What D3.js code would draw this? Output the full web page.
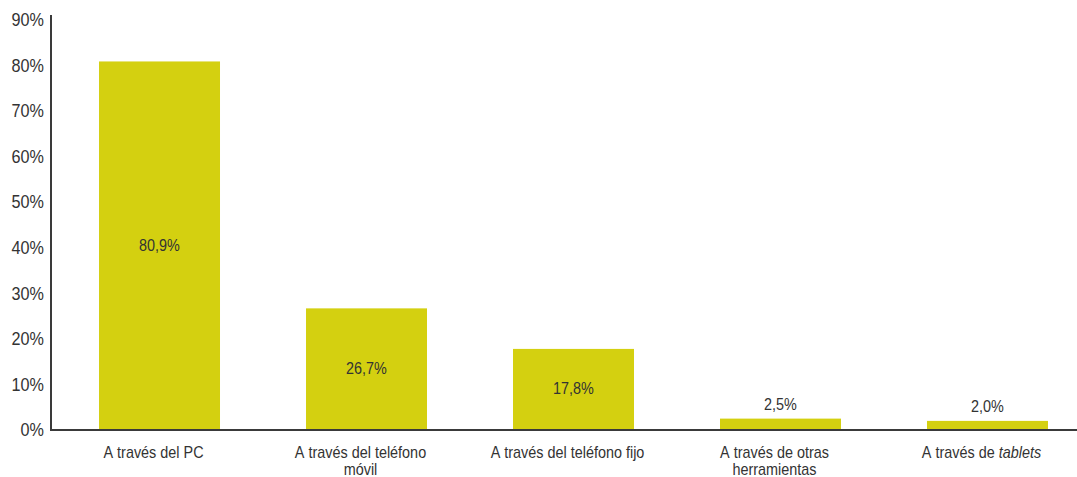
<!DOCTYPE html>
<html>
<head>
<meta charset="utf-8">
<script src="https://cdn.jsdelivr.net/npm/d3@7"></script>
<style>
  html, body { margin: 0; padding: 0; background: #fff; }
  svg { display: block; }
  text { font-family: "Liberation Sans", Arial, sans-serif; fill: #333; }
</style>
</head>
<body>
<svg id="chart" width="1077" height="477"></svg>
<script>
// Canal de acceso (porcentaje)
const categories = [
  "A través del PC",
  "A través del teléfono\nmóvil",
  "A través del teléfono fijo",
  "A través de otras\nherramientas",
  "A través de tablets"
];
const values = [80.9, 26.7, 17.8, 2.5, 2.0];
const valueLabels = ["80,9%", "26,7%", "17,8%", "2,5%", "2,0%"];
const tickValues = [0, 10, 20, 30, 40, 50, 60, 70, 80, 90];
const tickLabels = ["0%", "10%", "20%", "30%", "40%", "50%", "60%", "70%", "80%", "90%"];
const italicWords = ["tablets"];

const svg = d3.select("#chart");
const W = 1077;
const axisX = 51, baseY = 430, topY = 20;
const condense = 0.9;   // narrow letterforms
const catShift = -6;    // category labels sit slightly left of the bar centres

const x = d3.scaleBand()
  .domain(categories)
  .range([axisX, 1096])
  .paddingInner(0.4155)
  .paddingOuter(0.232);

const y = d3.scaleLinear().domain([0, 90]).range([baseY, topY]);

// Y axis: labels only, with a plain vertical line
const yAxis = svg.append("g")
  .attr("transform", `translate(${axisX},0)`)
  .call(d3.axisLeft(y)
    .tickValues(tickValues)
    .tickFormat((d, i) => tickLabels[i])
    .tickSize(0)
    .tickPadding(8));
yAxis.select(".domain").remove();
yAxis.selectAll("text")
  .style("font-size", "18px")
  .attr("fill", "#333")
  .attr("transform", `scale(${condense},1)`);

// Bars
svg.append("g").selectAll("rect")
  .data(values)
  .join("rect")
  .attr("x", (d, i) => x(categories[i]))
  .attr("width", x.bandwidth())
  .attr("y", d => y(d))
  .attr("height", d => y(0) - y(d))
  .attr("fill", "#d4d010");

// Axis lines
svg.append("line")
  .attr("x1", axisX).attr("x2", axisX)
  .attr("y1", y(90) - 5).attr("y2", y(0) + 1)
  .attr("stroke", "#3a3a3a").attr("stroke-width", 2);
svg.append("line")
  .attr("x1", axisX - 1).attr("x2", W)
  .attr("y1", y(0)).attr("y2", y(0))
  .attr("stroke", "#3a3a3a").attr("stroke-width", 2);

// Value labels: centred inside tall bars, above short ones
svg.append("g").selectAll("text")
  .data(values)
  .join("text")
  .attr("transform", (d, i) => {
    const cx = x(categories[i]) + x.bandwidth() / 2;
    const cy = (y(0) - y(d)) > 40 ? (y(d) + y(0)) / 2 : y(d) - 9;
    return `translate(${cx},${cy}) scale(${condense},1)`;
  })
  .attr("dy", d => (y(0) - y(d)) > 40 ? "0.3em" : "0")
  .attr("text-anchor", "middle")
  .style("font-size", "16px")
  .text((d, i) => valueLabels[i]);

// Category labels (wrapped, with italic words)
const catG = svg.append("g");
categories.forEach(c => {
  const lines = c.split("\n");
  const t = catG.append("text")
    .attr("transform", `translate(${x(c) + x.bandwidth() / 2 + catShift},458) scale(${condense},1)`)
    .attr("text-anchor", "middle")
    .style("font-size", "16px");
  lines.forEach((line, li) => {
    const words = line.split(" ");
    words.forEach((w, wi) => {
      const ts = t.append("tspan").text((wi > 0 ? " " : "") + w);
      if (wi === 0) ts.attr("x", 0).attr("dy", li === 0 ? 0 : 17);
      if (italicWords.includes(w)) ts.style("font-style", "italic");
    });
  });
});
</script>
</body>
</html>
